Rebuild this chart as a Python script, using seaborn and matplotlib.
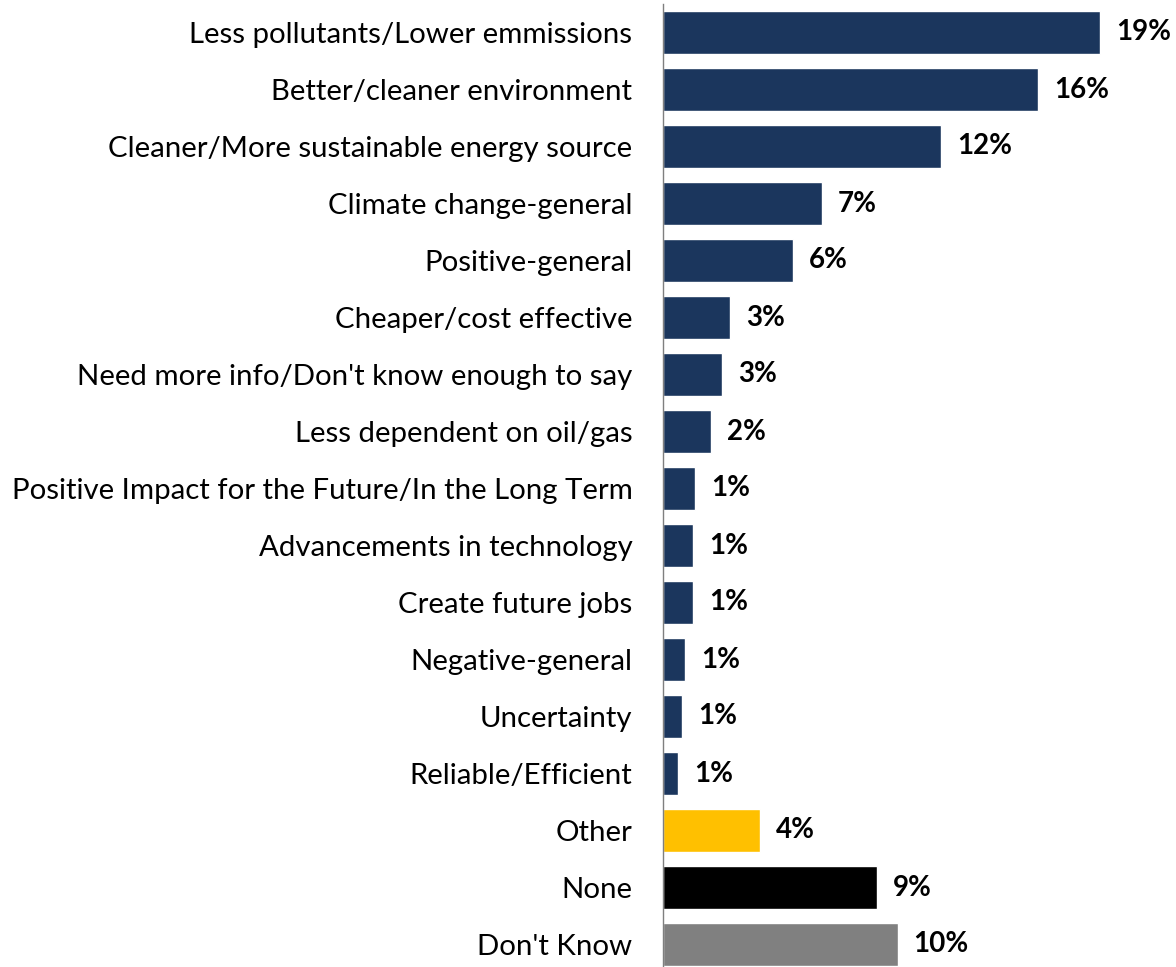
import matplotlib
matplotlib.use("Agg")
import matplotlib.pyplot as plt
import seaborn as sns
import pandas as pd

categories = [
    "Less pollutants/Lower emmissions",
    "Better/cleaner environment",
    "Cleaner/More sustainable energy source",
    "Climate change-general",
    "Positive-general",
    "Cheaper/cost effective",
    "Need more info/Don't know enough to say",
    "Less dependent on oil/gas",
    "Positive Impact for the Future/In the Long Term",
    "Advancements in technology",
    "Create future jobs",
    "Negative-general",
    "Uncertainty",
    "Reliable/Efficient",
    "Other",
    "None",
    "Don't Know",
]
values = [19.0, 16.3, 12.1, 6.9, 5.65, 2.9, 2.57, 2.1, 1.4, 1.3, 1.3, 0.96, 0.83, 0.65, 4.2, 9.3, 10.2]
value_labels = ["19%", "16%", "12%", "7%", "6%", "3%", "3%", "2%", "1%", "1%", "1%", "1%", "1%", "1%", "4%", "9%", "10%"]
bar_colors = ["#1B365D"] * 14 + ["#FFC000", "#000000", "#808080"]

sns.set_theme(style="white")
plt.rcParams["font.family"] = ["Lato", "DejaVu Sans"]

df = pd.DataFrame({"category": categories, "value": values})

fig = plt.figure(figsize=(11.76, 9.67), dpi=100)
ax = fig.add_axes([663 / 1176, -6 / 967, 513 / 1176, 969 / 967])

sns.barplot(data=df, x="value", y="category", hue="category", palette=bar_colors,
            legend=False, width=0.75, orient="h", ax=ax, saturation=1)

for i, (v, lab) in enumerate(zip(values, value_labels)):
    ax.annotate(lab, xy=(v, i), xytext=(11.5, 0), textcoords="offset points",
                va="center", ha="left", fontsize=20, fontweight="bold", color="black")

ax.set_xlim(0, 513 / 23)
ax.set_ylim(len(categories) - 0.5, -0.5)
ax.set_xlabel("")
ax.set_ylabel("")
ax.set_xticks([])
ax.tick_params(axis="y", length=0, pad=22, labelsize=21.2, labelcolor="black")
for s in ["top", "right", "bottom"]:
    ax.spines[s].set_visible(False)
ax.spines["left"].set_color("#7F7F7F")
ax.spines["left"].set_linewidth(1.0)

fig.savefig("out.png", dpi=100)
